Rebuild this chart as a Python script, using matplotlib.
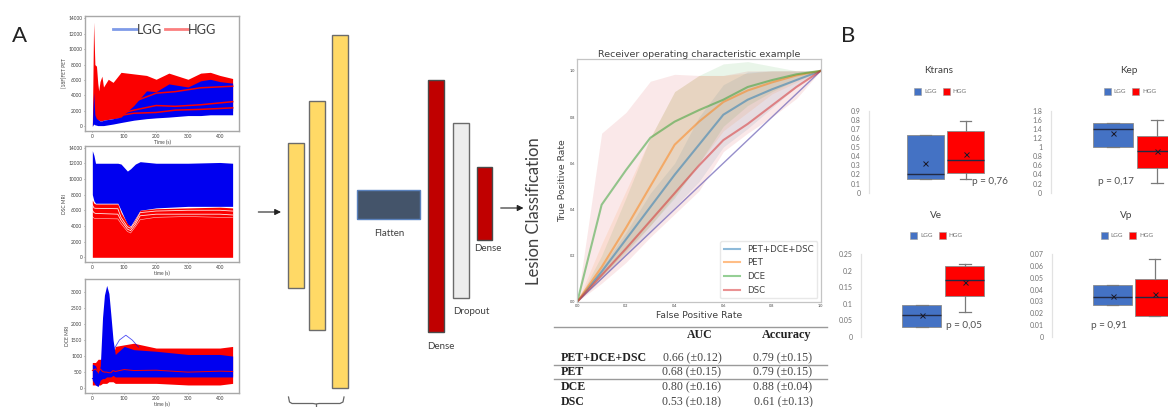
import matplotlib
matplotlib.use("Agg")
import matplotlib.pyplot as plt
from matplotlib.patches import Rectangle

W, H = 1168, 407
plt.rcParams['font.family'] = ['Lato', 'DejaVu Sans']
fig = plt.figure(figsize=(W / 100, H / 100), dpi=100)


def ax_px(x0, y0, x1, y1, **kw):
    return fig.add_axes([x0 / W, 1 - y1 / H, (x1 - x0) / W, (y1 - y0) / H], **kw)


BLUE, RED = '#0000f0', '#fb0000'
TXT = '#404040'

# ---------- time curve envelopes (panel A) ----------
pet_t = [0, 4, 8, 13, 17, 20, 24, 30, 35, 50, 65, 90, 130, 170, 200, 240, 300, 340, 370, 400, 440]
pet_hgg_hi = [0, 13500, 8000, 7800, 5600, 4600, 5800, 6500, 5100, 6100, 5700, 7000, 6800, 6600, 6100, 6900, 6100, 6900, 7000, 6600, 6200]
pet_hgg_lo = [0, 1100, 1000, 900, 800, 800, 700, 700, 800, 900, 1000, 1100, 1300, 1400, 1500, 1600, 1700, 1800, 1800, 1900, 2000]
pet_lgg_hi = [0, 4400, 1500, 1000, 900, 800, 700, 700, 800, 900, 1000, 1200, 2700, 4600, 4500, 5500, 5100, 5900, 6100, 5800, 5600]
pet_lgg_lo = [0, 300, 200, 150, 100, 100, 100, 100, 100, 200, 300, 500, 800, 1000, 1100, 1200, 1400, 1400, 1500, 1500, 1500]
pet_hgg_trace_a = [2800, 3200, 4300, 4500, 5000, 5200]
pet_hgg_trace_b = [1800, 2100, 2700, 2600, 2800, 3200]
pet_hgg_trace_c = [1500, 1700, 1800, 2100, 2200, 2400]
pet_trace_t = [100, 130, 200, 260, 340, 440]

dsc_t = [0, 5, 10, 80, 90, 110, 120, 135, 150, 200, 300, 400, 440]
dsc_lgg_hi = [13600, 13000, 12000, 12000, 11900, 11000, 11300, 11900, 12200, 12000, 12000, 12100, 12000]
dsc_lgg_lo = [8000, 7200, 6900, 6900, 6000, 4200, 4000, 5000, 6000, 6300, 6500, 6500, 6500]
dsc_hgg_hi = [7300, 6900, 6800, 6800, 5700, 4300, 3900, 4900, 6000, 6200, 6300, 6400, 6300]
dsc_gap_a = [6700, 6300, 6250, 6200, 5100, 3900, 3700, 4500, 5700, 5900, 6000, 6000, 5900]
dsc_gap_b = [6000, 5700, 5600, 5500, 4700, 3600, 3400, 4200, 5300, 5500, 5500, 5500, 5400]
dsc_gap_c = [5200, 5000, 4950, 4900, 4300, 3300, 3100, 3900, 4800, 5100, 5200, 5100, 5100]

dce_t = [0, 10, 18, 25, 32, 38, 45, 52, 58, 65, 72, 100, 130, 200, 300, 400, 440]
dce_hgg_hi = [800, 800, 900, 900, 900, 900, 900, 900, 900, 1000, 1300, 1350, 1400, 1250, 1250, 1250, 1300]
dce_hgg_lo = [100, 100, 100, 100, 150, 150, 150, 200, 200, 200, 150, 150, 150, 150, 100, 100, 150]
dce_lgg_hi = [750, 700, 450, 700, 2200, 2900, 3200, 2950, 2300, 1500, 1050, 1300, 1200, 1150, 1050, 1050, 1000]
dce_lgg_lo = [250, 100, 50, 250, 300, 300, 350, 350, 350, 400, 350, 350, 350, 350, 350, 350, 350]
dce_bump_t = [70, 85, 105, 125, 145]
dce_bump = [1250, 1500, 1650, 1500, 1280]
dce_trace_a = [550, 600, 500, 600, 520, 500, 500, 480, 480, 550, 520, 580, 550, 560, 500, 530, 520]
dce_trace_b = [300, 250, 250, 350, 400, 420, 400, 420, 440, 420, 430, 420, 380, 400, 420, 380, 400]

a1 = ax_px(85, 16, 239, 131)
a1.fill_between(pet_t, pet_hgg_lo, pet_hgg_hi, color=RED, lw=0)
a1.fill_between(pet_t, pet_lgg_lo, pet_lgg_hi, color=BLUE, lw=0)
for tr in (pet_hgg_trace_a, pet_hgg_trace_b, pet_hgg_trace_c):
    a1.plot(pet_trace_t, tr, color=RED, lw=1.1)
a1.set_xlim(-23, 460)
a1.set_ylim(-600, 14300)
a1.set_xlabel('Time (s)', fontsize=3.5, labelpad=0.5, color=TXT)
a1.set_ylabel('[18F]FET PET', fontsize=3.5, labelpad=1, color=TXT)

a2 = ax_px(85, 146, 239, 262)
a2.fill_between(dsc_t, dsc_lgg_lo, dsc_lgg_hi, color=BLUE, lw=0)
a2.fill_between(dsc_t, 0, dsc_hgg_hi, color=RED, lw=0)
a2.plot(dsc_t, dsc_gap_a, color='white', lw=0.6, alpha=0.9)
a2.plot(dsc_t, dsc_gap_b, color='white', lw=0.6, alpha=0.9)
a2.plot(dsc_t, dsc_gap_c, color='white', lw=0.4, alpha=0.8)
a2.set_xlim(-23, 460)
a2.set_ylim(-600, 14200)
a2.set_xlabel('time (s)', fontsize=3.5, labelpad=0.5, color=TXT)
a2.set_ylabel('DSC MRI', fontsize=3.5, labelpad=1, color=TXT)

a3 = ax_px(85, 279, 239, 393)
a3.fill_between(dce_t, dce_hgg_lo, dce_hgg_hi, color=RED, lw=0)
a3.fill_between(dce_t, dce_lgg_lo, dce_lgg_hi, color=BLUE, lw=0)
a3.plot(dce_t, dce_trace_a, color=RED, lw=0.7)
a3.plot(dce_t, dce_trace_b, color=BLUE, lw=0.6)
a3.plot(dce_bump_t, dce_bump, color=BLUE, lw=0.6, alpha=0.7)
a3.set_xlim(-23, 460)
a3.set_ylim(-150, 3400)
a3.set_xlabel('time (s)', fontsize=3.5, labelpad=0.5, color=TXT)
a3.set_ylabel('DCE MRI', fontsize=3.5, labelpad=1, color=TXT)

for a, yt in ((a1, range(0, 14001, 2000)), (a2, range(0, 14001, 2000)), (a3, range(0, 3001, 500))):
    a.set_yticks(list(yt))
    a.set_xticks([0, 100, 200, 300, 400])
    a.tick_params(labelsize=3.5, length=1, width=0.4, pad=1, colors=TXT)
    for s in a.spines.values():
        s.set_color('#a8a8a8')
        s.set_linewidth(1)

# ---------- ROC ----------
fpr = [0, .1, .2, .3, .4, .5, .6, .7, .8, .9, 1]
tpr_all = [0, .13, .27, .41, .55, .68, .81, .875, .92, .96, 1]
tpr_pet = [0, .15, .32, .50, .68, .78, .865, .915, .95, .98, 1]
tpr_dce = [0, .42, .57, .71, .78, .83, .875, .93, .96, .985, 1]
tpr_dsc = [0, .115, .23, .35, .47, .59, .70, .77, .85, .93, 1]
band_all_hi = [0, .15, .30, .47, .60, .80, .94, .995, 1.0, 1.0, 1]
band_all_lo = [0, .10, .20, .30, .41, .52, .67, .75, .84, .93, 1]
band_pet_hi = [0, .25, .48, .71, .91, .98, .98, .99, 1.0, 1.0, 1]
band_pet_lo = [0, .10, .21, .33, .46, .60, .74, .82, .90, .95, 1]
band_dce_hi = [0, .20, .45, .71, .91, .98, 1.03, 1.04, 1.02, 1.0, 1]
band_dce_lo = [0, .11, .22, .33, .45, .60, .76, .85, .91, .96, 1]
band_dsc_hi = [0, .73, .82, .955, .985, .98, .98, 1.0, 1.0, 1.0, 1]
band_dsc_lo = [0, .08, .17, .28, .38, .48, .65, .73, .80, .88, 1]
chance = [0, 1]
roc_names = ['PET+DCE+DSC', 'PET', 'DCE', 'DSC']

r = ax_px(577.3, 59.3, 820.7, 301.7)
roc_cols = ['#1f77b4', '#ff7f0e', '#2ca02c', '#d62728']
bands = [(band_all_lo, band_all_hi), (band_pet_lo, band_pet_hi), (band_dce_lo, band_dce_hi), (band_dsc_lo, band_dsc_hi)]
curves = [tpr_all, tpr_pet, tpr_dce, tpr_dsc]
for (lo, hi), c in zip(bands, roc_cols):
    r.fill_between(fpr, lo, hi, color=c, alpha=0.10, lw=0)
r.plot(chance, chance, color='#6a5fb5', lw=1, alpha=0.7)
for cur, c, n in zip(curves, roc_cols, roc_names):
    r.plot(fpr, cur, color=c, lw=1.5, alpha=0.5, label=n)
r.set_xlim(0, 1)
r.set_ylim(0, 1.05)
r.set_xticks([0, .2, .4, .6, .8, 1])
r.set_yticks([0, .2, .4, .6, .8, 1])
r.set_xticklabels(['0.0', '0.2', '0.4', '0.6', '0.8', '1.0'])
r.set_yticklabels(['0.0', '0.2', '0.4', '0.6', '0.8', '1.0'])
r.tick_params(labelsize=2.8, length=0, pad=1.5, colors=TXT)
r.set_title('Receiver operating characteristic example', fontsize=6.8, color=TXT, pad=1.5, family='DejaVu Sans')
r.set_xlabel('False Positive Rate', fontsize=6.7, color=TXT, labelpad=2.5, family='DejaVu Sans')
r.set_ylabel('True Positive Rate', fontsize=6.7, color=TXT, labelpad=2, family='DejaVu Sans')
for s in r.spines.values():
    s.set_color('#c4c4c4')
    s.set_linewidth(0.9)
leg = r.legend(loc='lower right', prop={'family': 'DejaVu Sans', 'size': 6.2}, borderaxespad=0.4,
               labelspacing=0.55, handlelength=1.95, handletextpad=0.8, framealpha=0.85, edgecolor='#e4e4e4')
for t in leg.get_texts():
    t.set_color(TXT)

# ---------- overlay in pixel coordinates ----------
ov = fig.add_axes([0, 0, 1, 1], zorder=10)
ov.set_xlim(0, W)
ov.set_ylim(H, 0)
ov.axis('off')


def txt(x, y, s, size, color=TXT, **kw):
    kw.setdefault('ha', 'center')
    kw.setdefault('va', 'center')
    ov.text(x, y, s, fontsize=size, color=color, **kw)


txt(20, 36, 'A', 16, color='#222222')
txt(848, 36, 'B', 16, color='#222222')

# legend of panel A
ov.plot([112.7, 136.7], [29.3, 29.3], color='#7f9be8', lw=2)
txt(149, 29.5, 'LGG', 9.2)
ov.plot([165, 188], [29.3, 29.3], color='#fb7f7f', lw=2)
txt(201.7, 29.5, 'HGG', 9.2)

# network layers: (x0, y0, x1, y1, face, edge)
layers = [
    (287.7, 143, 304, 288, '#ffd966', '#6b6b6b'),
    (309.3, 101, 325.3, 330, '#ffd966', '#6b6b6b'),
    (332.3, 34.7, 348.3, 387.7, '#ffd966', '#6b6b6b'),
    (356.7, 189.7, 420, 219, '#44546a', '#5b82bd'),
    (427.7, 79.7, 444, 332, '#c00000', '#4a4a4a'),
    (452.7, 122.7, 468.7, 298.3, '#ededed', '#6b6b6b'),
    (476.7, 167.3, 492.3, 240.3, '#c00000', '#4a4a4a'),
]
for x0, y0, x1, y1, fc, ec in layers:
    ov.add_patch(Rectangle((x0, y0), x1 - x0, y1 - y0, facecolor=fc, edgecolor=ec, lw=1))
txt(389.3, 233.3, 'Flatten', 7)
txt(488.3, 248.7, 'Dense', 7)
txt(471, 311.7, 'Dropout', 7)
txt(441.3, 346.3, 'Dense', 7)
txt(534, 211, 'Lesion Classification', 12, rotation=90)
for x0, x1, y in ((258.3, 281, 212), (500.7, 523.5, 208)):
    ov.annotate('', xy=(x1, y), xytext=(x0, y),
                arrowprops=dict(arrowstyle='-|>', color='#222222', lw=0.8, mutation_scale=9, shrinkA=0, shrinkB=0))
ov.plot([288.5, 289.5, 292, 313, 316, 319, 340, 343, 344], [397, 402, 403.5, 403.5, 404, 403.5, 403.5, 402, 397],
        color='#666666', lw=0.9)
ov.plot([316, 316], [404, 407], color='#666666', lw=0.9)

# ---------- table ----------
table_cols = ['AUC', 'Accuracy']
table_rows = ['PET+DCE+DSC', 'PET', 'DCE', 'DSC']
table_auc = ['0.66 (±0.12)', '0.68 (±0.15)', '0.80 (±0.16)', '0.53 (±0.18)']
table_acc = ['0.79 (±0.15)', '0.79 (±0.15)', '0.88 (±0.04)', '0.61 (±0.13)']
SER = ['Liberation Serif', 'DejaVu Serif']
row_y = [358, 372, 387, 402]
for y in (326.7, 364.7, 379):
    ov.plot([554, 827], [y, y], color='#9a9a9a', lw=1)
txt(700, 335, table_cols[0], 8.6, color='#222222', family=SER, weight='bold')
txt(787, 335, table_cols[1], 8.8, color='#222222', family=SER, weight='bold')
for y, n, a_, b_ in zip(row_y, table_rows, table_auc, table_acc):
    txt(561, y, n, 8.6, color='#222222', family=SER, weight='bold', ha='left')
    txt(692, y, a_, 8.6, color='#444444', family=SER)
    txt(783, y, b_, 8.6, color='#444444', family=SER)

# ---------- box plots (panel B) ----------
box_groups = ['LGG', 'HGG']
ktrans_stats = [dict(q1=.15, med=.21, q3=.63, mean=.33, whislo=.15, whishi=.63),
                dict(q1=.22, med=.36, q3=.68, mean=.43, whislo=.15, whishi=.79)]
kep_stats = [dict(q1=1.0, med=1.4, q3=1.52, mean=1.3, whislo=1.0, whishi=1.52),
             dict(q1=.55, med=.92, q3=1.25, mean=.92, whislo=.22, whishi=1.6)]
ve_stats = [dict(q1=.03, med=.065, q3=.097, mean=.065, whislo=.03, whishi=.097),
            dict(q1=.125, med=.172, q3=.213, mean=.167, whislo=.075, whishi=.222)]
vp_stats = [dict(q1=.027, med=.034, q3=.044, mean=.035, whislo=.027, whishi=.044),
            dict(q1=.018, med=.034, q3=.049, mean=.036, whislo=.018, whishi=.066)]
ktrans_ticks = ['0', '0.1', '0.2', '0.3', '0.4', '0.5', '0.6', '0.7', '0.8', '0.9']
kep_ticks = ['0', '0.2', '0.4', '0.6', '0.8', '1', '1.2', '1.4', '1.6', '1.8']
ve_ticks = ['0', '0.05', '0.1', '0.15', '0.2', '0.25']
vp_ticks = ['0', '0.01', '0.02', '0.03', '0.04', '0.05', '0.06', '0.07']

panels = [
    ('Ktrans', ktrans_stats, ktrans_ticks, .9, 869, 110.7, 192.7, 925.3, 40.4, 36.7, 'p = 0,76', (990, 182), (939, 70.7), (917.7, 91.7)),
    ('Kep', kep_stats, kep_ticks, 1.8, 1050.7, 110.7, 192.7, 1113, 44, 40, 'p = 0,17', (1116, 182), (1129, 70.7), (1107, 91.7)),
    ('Ve', ve_stats, ve_ticks, .25, 861, 254.3, 336.7, 921.7, 43, 39, 'p = 0,05', (964, 325), (935.7, 215), (913.7, 235.7)),
    ('Vp', vp_stats, vp_ticks, .07, 1052.3, 254.3, 336.7, 1112.5, 42, 39, 'p = 0,91', (1108.7, 325), (1125.7, 215), (1104, 235.7)),
]
for name, stats, ticks, top, xax, ytop, ybot, c1, sp, bw, ptxt, ppos, tpos, lpos in panels:
    right = xax + 150
    ax = ax_px(xax, ytop, right, ybot)
    ax.patch.set_alpha(0)
    bp = ax.bxp(stats, positions=[c1, c1 + sp], widths=bw, showmeans=True, patch_artist=True, manage_ticks=False,
                showfliers=False,
                meanprops=dict(marker='x', markeredgecolor='#1a1a2a', markersize=3.6, markeredgewidth=0.7),
                medianprops=dict(color='#222a44', lw=1),
                whiskerprops=dict(color='#7a7a7a', lw=0.9),
                capprops=dict(color='#7a7a7a', lw=0.9),
                boxprops=dict(edgecolor='#8a8a8a', lw=0.6), capwidths=bw * 0.3)
    bp['boxes'][0].set_facecolor('#4472c4')
    bp['boxes'][1].set_facecolor('#ff0000')
    ax.set_xlim(xax, right)
    ax.set_ylim(0, top)
    ax.set_yticks([top * i / (len(ticks) - 1) for i in range(len(ticks))])
    ax.set_yticklabels(ticks)
    ax.set_xticks([])
    ax.tick_params(axis='y', labelsize=5, length=0, pad=6, colors='#707070')
    for k in ('top', 'right', 'bottom'):
        ax.spines[k].set_visible(False)
    ax.spines['left'].set_color('#e2e2e2')
    ax.spines['left'].set_linewidth(0.9)
    txt(ppos[0], ppos[1], ptxt, 7.2, color='#505050')
    txt(tpos[0], tpos[1], name, 7.2, color='#404040')
    lx, ly = lpos
    ov.add_patch(Rectangle((lx - 3.5, ly - 3.5), 7, 7, facecolor='#4472c4', edgecolor='#9a9a9a', lw=0.4))
    txt(lx + 13, ly, box_groups[0], 4.6, color='#707070')
    ov.add_patch(Rectangle((lx + 25, ly - 3.5), 7, 7, facecolor='#ff0000', edgecolor='#9a9a9a', lw=0.4))
    txt(lx + 42, ly, box_groups[1], 4.6, color='#707070')

fig.savefig('out.png', dpi=100)
